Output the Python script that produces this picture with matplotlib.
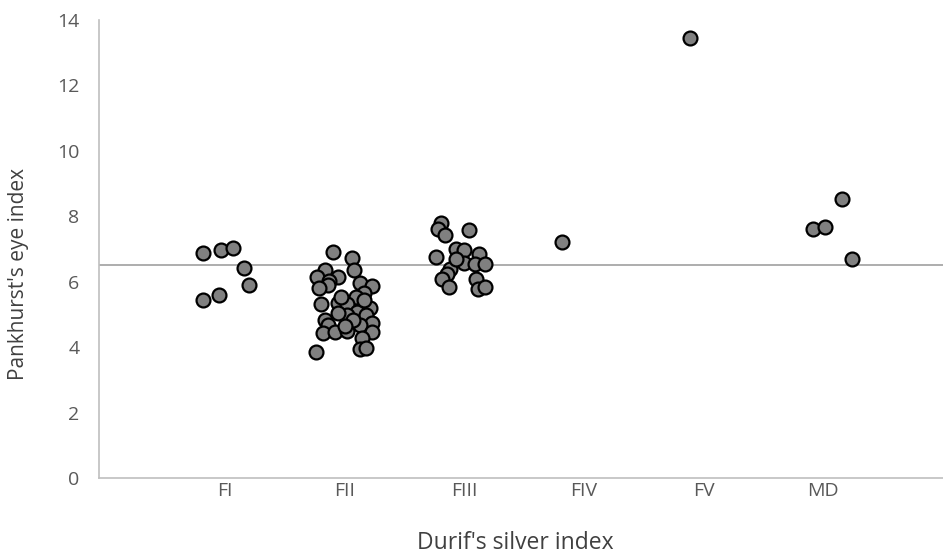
import matplotlib.pyplot as plt

categories = ['FI', 'FII', 'FIII', 'FIV', 'FV', 'MD']
mean_line = 6.5

# jittered x (category units) and y values per group
fi_x = [0.813, 0.964, 1.061, 1.159, 1.201, 0.952, 0.818]
fi_y = [6.87, 6.97, 7.02, 6.43, 5.90, 5.58, 5.44]

fii_x = [1.90, 2.06, 2.08, 1.83, 1.77, 1.94, 1.87, 1.86, 1.78, 2.13, 2.23,
         2.16, 2.09, 1.80, 1.94, 2.02, 2.21, 2.10, 2.02, 1.94, 2.18, 1.83,
         2.23, 2.13, 1.86, 1.82, 1.92, 2.02, 2.23, 2.14, 1.76, 2.13, 2.18,
         1.97, 2.16, 2.07, 2.00]
fii_y = [6.90, 6.74, 6.36, 6.36, 6.15, 6.15, 6.02, 5.90, 5.80, 5.95, 5.88,
         5.65, 5.54, 5.31, 5.34, 5.31, 5.19, 5.08, 4.98, 5.04, 4.98, 4.83,
         4.73, 4.68, 4.68, 4.42, 4.47, 4.49, 4.45, 4.27, 3.86, 3.94, 3.97,
         5.53, 5.44, 4.83, 4.65]

fiii_x = [2.80, 2.78, 2.84, 3.04, 2.76, 2.93, 3.00, 3.12, 3.00, 3.09, 3.17,
          2.88, 2.85, 2.81, 2.87, 3.10, 3.11, 3.17, 2.93]
fiii_y = [7.81, 7.60, 7.42, 7.59, 6.76, 6.99, 6.96, 6.86, 6.58, 6.55, 6.55,
          6.40, 6.25, 6.09, 5.84, 6.09, 5.77, 5.84, 6.70]

fiv_x = [3.814]
fiv_y = [7.22]

fv_x = [4.889]
fv_y = [13.44]

md_x = [5.914, 6.011, 6.157, 6.243]
md_y = [7.60, 7.66, 8.52, 6.70]

plt.rcParams['font.family'] = ['Open Sans', 'DejaVu Sans']

fig = plt.figure(figsize=(9.43, 5.59), dpi=100)
ax = fig.add_axes([99 / 943, 81 / 559, 1 - 99 / 943, 458 / 559])

ax.axhline(mean_line, color='#a0a0a0', lw=1.2, zorder=1)

for xs, ys in [(fi_x, fi_y), (fii_x, fii_y), (fiii_x, fiii_y),
               (fiv_x, fiv_y), (fv_x, fv_y), (md_x, md_y)]:
    ax.plot(xs, ys, 'o', ms=10, mfc='#808080', mec='black', mew=1.6,
            linestyle='none', zorder=3, clip_on=False)

ax.set_xlim(-0.055, 7.0)
ax.set_ylim(0, 14)
ax.set_yticks(range(0, 15, 2))
ax.set_xticks(range(1, 7))
ax.set_xticklabels(categories)

for s in ['top', 'right']:
    ax.spines[s].set_visible(False)
for s in ['left', 'bottom']:
    ax.spines[s].set_color('#bfbfbf')
    ax.spines[s].set_linewidth(1.2)

ax.tick_params(length=0, labelsize=14, colors='#595959')
ax.tick_params(axis='y', pad=14)
ax.tick_params(axis='x', pad=3)

ax.set_xlabel("Durif's silver index", fontsize=16.5, color='#404040')
ax.set_ylabel("Pankhurst's eye index", fontsize=15, color='#404040')
ax.xaxis.set_label_coords(0.493, -0.115)
ax.yaxis.set_label_coords(-0.083, 0.445)

fig.savefig('out.png', dpi=100)
